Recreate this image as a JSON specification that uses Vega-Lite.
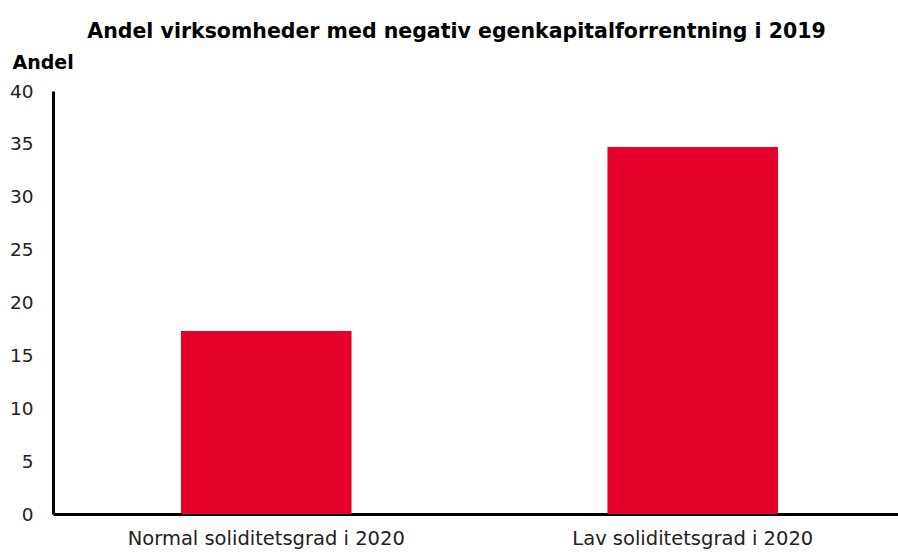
{
  "$schema": "https://vega.github.io/schema/vega-lite/v6.json",
  "autosize": "none",
  "width": 853,
  "height": 423,
  "padding": {"left": 53, "top": 91, "right": 0, "bottom": 38},
  "background": "white",
  "title": {
    "text": "Andel virksomheder med negativ egenkapitalforrentning i 2019",
    "font": "DejaVu Sans",
    "fontSize": 20.5,
    "fontWeight": "bold",
    "color": "#000000",
    "anchor": "middle",
    "dx": -23,
    "offset": 11
  },
  "config": {
    "view": {"stroke": null},
    "font": "DejaVu Sans"
  },
  "data": {
    "values": [
      {"kategori": "Normal soliditetsgrad i 2020", "andel": 17.3},
      {"kategori": "Lav soliditetsgrad i 2020", "andel": 34.7}
    ]
  },
  "mark": {"type": "bar", "color": "#E4002B"},
  "encoding": {
    "x": {
      "field": "kategori",
      "type": "nominal",
      "sort": null,
      "scale": {"paddingInner": 0.6, "paddingOuter": 0.3},
      "axis": {
        "title": null,
        "labelAngle": 0,
        "labelLimit": 0,
        "labelFont": "DejaVu Sans",
        "labelFontSize": 19.5,
        "labelColor": "#222222",
        "labelPadding": 15,
        "ticks": false,
        "domainColor": "#000000",
        "domainWidth": 3
      }
    },
    "y": {
      "field": "andel",
      "type": "quantitative",
      "scale": {"domain": [0, 40]},
      "axis": {
        "values": [0, 5, 10, 15, 20, 25, 30, 35, 40],
        "grid": false,
        "ticks": false,
        "labelFont": "DejaVu Sans",
        "labelFontSize": 18.5,
        "labelColor": "#222222",
        "labelPadding": 20,
        "domainColor": "#000000",
        "domainWidth": 3,
        "title": "Andel",
        "titleAngle": 0,
        "titleAlign": "left",
        "titleBaseline": "middle",
        "titleX": -41,
        "titleY": -29,
        "titleFont": "DejaVu Sans",
        "titleFontSize": 19,
        "titleFontWeight": "bold",
        "titleColor": "#000000"
      }
    }
  }
}
